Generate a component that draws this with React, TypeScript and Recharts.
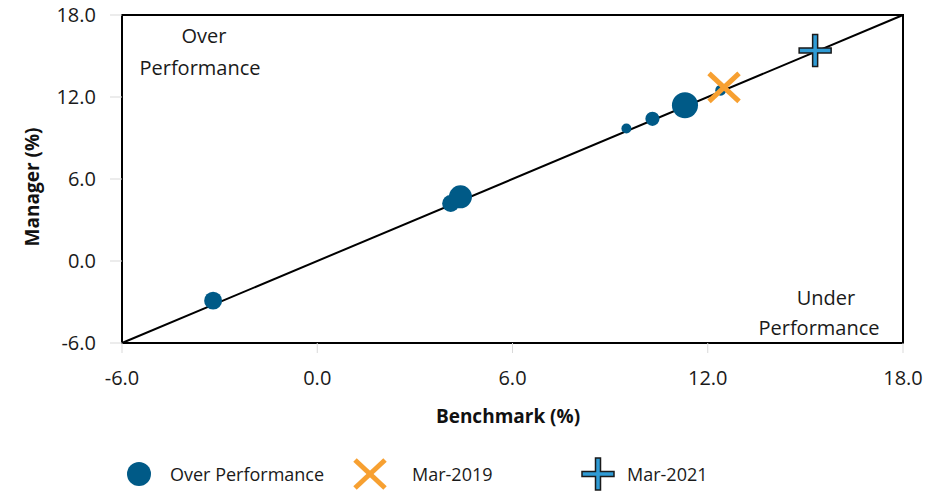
import { ScatterChart, Scatter, XAxis, YAxis, ZAxis, ReferenceLine, ReferenceArea, Label } from "recharts"

// manager vs benchmark returns (%), bubble weight drives size
const benchmark = [-3.2, 4.1, 4.4, 9.5, 10.3, 11.3, 12.4]
const manager = [-2.9, 4.2, 4.7, 9.7, 10.4, 11.4, 12.5]
const weight = [3.2, 2.9, 5.3, 1, 2, 6.8, 1.2]
const mar2019 = [12.5, 12.7]
const mar2021 = [15.3, 15.4]
const axisTicks = [-6, 0, 6, 12, 18]

const NAVY = "#005A87"
const ORANGE = "#F7A031"
const SKY = "#2F9BD5"
const FONT = "'Open Sans', sans-serif"

const bubbles = benchmark.map((b, i) => ({ x: b, y: manager[i], z: weight[i] }))
const point2019 = [{ x: mar2019[0], y: mar2019[1], z: 1 }]
const point2021 = [{ x: mar2021[0], y: mar2021[1], z: 1 }]

function Cross({ cx, cy }: any) {
  return (
    <g>
      <line x1={cx - 15} y1={cy - 14} x2={cx + 15} y2={cy + 14} stroke={ORANGE} strokeWidth={5} />
      <line x1={cx - 15} y1={cy + 14} x2={cx + 15} y2={cy - 14} stroke={ORANGE} strokeWidth={5} />
    </g>
  )
}

function Plus({ cx, cy }: any) {
  const L = 16, t = 2.5
  const pts = [
    [-t, -L], [t, -L], [t, -t], [L, -t], [L, t], [t, t],
    [t, L], [-t, L], [-t, t], [-L, t], [-L, -t], [-t, -t],
  ].map(([dx, dy]) => `${cx + dx},${cy + dy}`).join(" ")
  return <polygon points={pts} fill={SKY} stroke="#1a1a1a" strokeWidth={1.5} />
}

const fmt = (v: number) => v.toFixed(1)

export default function App() {
  return (
    <div style={{ position: "absolute", left: 0, top: 0, width: 945, height: 491, fontFamily: FONT }}>
      <ScatterChart width={945} height={491} margin={{ top: 15, right: 42, bottom: 108, left: 22 }}>
        <XAxis
          type="number"
          dataKey="x"
          domain={[-6, 18]}
          ticks={axisTicks}
          tickFormatter={fmt}
          axisLine={false}
          tickLine={{ stroke: "#d9d9d9" }}
          tickSize={10}
          tickMargin={18}
          height={40}
          tick={{ fill: "#1a1a1a", fontSize: 20, fontFamily: FONT }}
        >
          <Label
            content={() => (
              <text x={508} y={423} textAnchor="middle" fontSize={19} fontWeight="bold" fill="#111" fontFamily={FONT}>
                Benchmark (%)
              </text>
            )}
          />
        </XAxis>
        <YAxis
          type="number"
          dataKey="y"
          domain={[-6, 18]}
          ticks={axisTicks}
          tickFormatter={fmt}
          axisLine={false}
          tickLine={{ stroke: "#d9d9d9" }}
          tickSize={12}
          tickMargin={14}
          width={100}
          tick={{ fill: "#1a1a1a", fontSize: 20, fontFamily: FONT }}
        >
          <Label
            content={() => (
              <text x={39} y={187} transform="rotate(-90, 39, 187)" textAnchor="middle" fontSize={19} fontWeight="bold" fill="#111" fontFamily={FONT}>
                Manager (%)
              </text>
            )}
          />
        </YAxis>
        <ZAxis type="number" dataKey="z" domain={[0, 7]} range={[0, 550]} />
        <ReferenceArea x1={-6} x2={18} y1={-6} y2={18} fill="none" fillOpacity={0} stroke="#000" strokeWidth={2} />
        <Scatter data={bubbles} fill={NAVY} shape="circle" isAnimationActive={false} />
        <ReferenceLine segment={[{ x: -6, y: -6 }, { x: 18, y: 18 }]} stroke="#000" strokeWidth={2} />
        <Scatter data={point2019} shape={Cross} isAnimationActive={false} />
        <Scatter data={point2021} shape={Plus} isAnimationActive={false} />
      </ScatterChart>
      <svg width={945} height={491} style={{ position: "absolute", left: 0, top: 0, pointerEvents: "none" }}>
        <g fontFamily={FONT} fontSize={20} fill="#1a1a1a" textAnchor="middle">
          <text x={204} y={43}>Over</text>
          <text x={200} y={75}>Performance</text>
          <text x={826} y={305}>Under</text>
          <text x={819} y={335}>Performance</text>
        </g>
        <g fontFamily={FONT} fontSize={18} fill="#1a1a1a">
          <circle cx={139} cy={474} r={12} fill={NAVY} />
          <text x={170} y={481}>Over Performance</text>
          <Cross cx={370} cy={474} />
          <text x={412} y={481}>Mar-2019</text>
          <Plus cx={598} cy={474} />
          <text x={627} y={481}>Mar-2021</text>
        </g>
      </svg>
    </div>
  )
}
